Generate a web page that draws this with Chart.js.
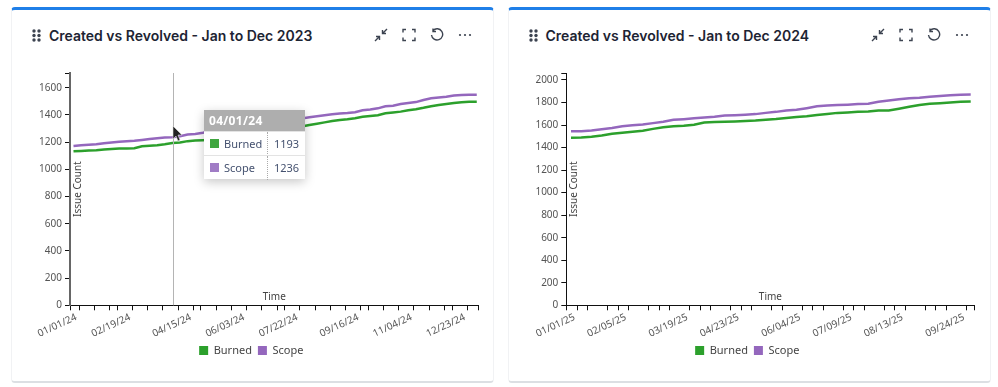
<!DOCTYPE html>
<html>
<head>
<meta charset="utf-8">
<title>Created vs Revolved</title>
<script src="https://cdn.jsdelivr.net/npm/chart.js@4"></script>
<style>
  html, body { margin: 0; padding: 0; background: #fff; }
  body { width: 998px; height: 387px; position: relative; overflow: hidden; font-family: "Noto Sans", sans-serif; }
  .card { position: absolute; top: 7px; width: 483px; height: 375.500px; box-sizing: border-box; background: #fff;
    border: 1px solid #f1f2f4; border-top: 3.5px solid #1f7fe8; border-bottom: 2px solid #dcdfe3; border-radius: 4px; }
  .title { position: absolute; top: 28px; font: 600 14px Inter, sans-serif; color: #1d2433; white-space: nowrap; line-height: 15px; }
  canvas { position: absolute; top: 60px; }
  svg.icon { position: absolute; fill: none; stroke: #3c4350; stroke-width: 1.4; }
  #tip { position: absolute; width: 101px; height: 69px; background: #fff; box-shadow: 0 3px 10px rgba(0,0,0,.22); font-size: 11px; color: #44516f; }
  #tip .head { position: absolute; left: 0; top: 0; right: 0; height: 21px; background: rgba(130,130,130,.65); color: #fff; font-weight: 700; font-size: 12px; line-height: 21px; padding-left: 5px; letter-spacing: .3px; }
  #tip .row { position: absolute; left: 0; right: 0; height: 24px; line-height: 24px; border-top: 1px solid #e3e3e3; }
  #tip .sw { position: absolute; left: 6px; top: 7px; width: 9px; height: 9px; }
  #tip .name { position: absolute; left: 20px; }
  #tip .val { position: absolute; left: 63px; width: 37px; text-align: center; border-left: 1px dotted #aaa; height: 24px; }
</style>
</head>
<body>
<div class="card" style="left:11px"></div>
<div class="card" style="left:507.5px"></div>
<div class="title" style="left:49px">Created vs Revolved - Jan to Dec 2023</div>
<div class="title" style="left:545.5px">Created vs Revolved - Jan to Dec 2024</div>
<canvas id="chart2024" width="478" height="320" style="left:12px"></canvas>
<canvas id="chart2025" width="478" height="320" style="left:508px"></canvas>
<div id="tip"></div>
<svg id="cursor" style="position:absolute;left:172px;top:125px" width="12" height="18" viewBox="0 0 12 18"><path d="M1 1v13l3-3 2 5 2-1-2-5h4z" fill="#222" stroke="#ddd" stroke-width=".6"/></svg>
<script>
// values, one entry per week
const burned2024 = [1132, 1135, 1138, 1140, 1146, 1149, 1152, 1153, 1155, 1170, 1173, 1177, 1184, 1193, 1197, 1207, 1211, 1214, 1217, 1220, 1228, 1235, 1243, 1250, 1258, 1265, 1272, 1280, 1288, 1298, 1315, 1326, 1335, 1345, 1355, 1362, 1368, 1376, 1386, 1392, 1398, 1412, 1418, 1424, 1434, 1442, 1452, 1464, 1472, 1480, 1488, 1493, 1496, 1496];
const scope2024 = [1172, 1177, 1181, 1184, 1192, 1197, 1203, 1206, 1210, 1216, 1222, 1229, 1234, 1236, 1243, 1256, 1260, 1268, 1279, 1290, 1298, 1306, 1316, 1325, 1333, 1340, 1347, 1354, 1362, 1370, 1374, 1382, 1390, 1398, 1404, 1410, 1414, 1420, 1434, 1440, 1448, 1463, 1468, 1480, 1488, 1494, 1510, 1522, 1527, 1533, 1542, 1547, 1548, 1548];
const burned2025 = [1488, 1490, 1497, 1507, 1522, 1532, 1541, 1550, 1566, 1581, 1590, 1594, 1603, 1622, 1627, 1630, 1632, 1635, 1640, 1648, 1654, 1663, 1672, 1678, 1690, 1698, 1708, 1712, 1717, 1721, 1729, 1730, 1745, 1762, 1778, 1788, 1794, 1800, 1806, 1810];
const scope2025 = [1545, 1546, 1552, 1562, 1574, 1590, 1598, 1604, 1617, 1630, 1646, 1652, 1660, 1667, 1673, 1684, 1688, 1692, 1697, 1708, 1717, 1730, 1736, 1750, 1766, 1773, 1777, 1781, 1786, 1790, 1806, 1817, 1828, 1838, 1842, 1852, 1858, 1864, 1870, 1872];

const yTicks2024 = [0, 200, 400, 600, 800, 1000, 1200, 1400, 1600];
const yTicks2025 = [0, 200, 400, 600, 800, 1000, 1200, 1400, 1600, 1800, 2000];

// week numbers that have a tick mark, and the ones that carry a date label
const xMarks2024 = [0, 2, 4, 6, 7, 9, 11, 13, 15, 17, 18, 20, 22, 24, 26, 28, 29, 31, 33, 35, 37, 39, 40, 42, 44, 46, 48, 50, 51, 53, 55];
const xLabelWeeks2024 = [0, 7, 15, 22, 29, 37, 44, 51];
const xLabels2024 = ['01/01/24', '02/19/24', '04/15/24', '06/03/24', '07/22/24', '09/16/24', '11/04/24', '12/23/24'];
const xMarks2025 = [0, 1, 2, 4, 5, 6, 8, 9, 10, 12, 13, 14, 16, 17, 18, 20, 21, 23, 24, 25, 27, 28, 29, 31, 32, 33, 35, 36, 37, 39, 40];
const xLabelWeeks2025 = [0, 5, 11, 16, 22, 27, 32, 38];
const xLabels2025 = ['01/01/25', '02/05/25', '03/19/25', '04/23/25', '06/04/25', '07/09/25', '08/13/25', '09/24/25'];

const hoverWeek = 13;
const hoverDate = '04/01/24';

const GREEN = '#2ca02c';
const PURPLE = '#9467bd';
const FONT = '"Noto Sans", sans-serif';

// axis names sit inside the plot in the original, so they are drawn here
const innerTitles = {
    id: 'innerTitles',
    afterDraw(chart) {
        const c = chart.ctx, a = chart.chartArea;
        c.save();
        c.fillStyle = '#444';
        c.font = '10px ' + FONT;
        c.textAlign = 'center';
        c.textBaseline = 'middle';
        c.fillText('Time', (a.left + a.right) / 2, a.bottom - 8);
        c.translate(a.left + 8, (a.top + a.bottom) / 2);
        c.rotate(-Math.PI / 2);
        c.fillText('Issue Count', 0, 0);
        c.restore();
    }
};

const crosshair = {
    id: 'crosshair',
    afterDraw(chart) {
        if (chart.canvas.id !== 'chart2024') return;
        const c = chart.ctx, a = chart.chartArea;
        const x = Math.round(chart.scales.x.getPixelForValue(hoverWeek)) + 1.5;
        c.save();
        c.strokeStyle = '#b4b4b4';
        c.lineWidth = 1;
        c.beginPath();
        c.moveTo(x, a.top);
        c.lineTo(x, a.bottom);
        c.stroke();
        c.restore();
    }
};

// first tick is pinned to the axis start, but its label stays where the date would fall
const firstLabel = {
    id: 'firstLabel',
    beforeDraw(chart) {
        if (chart.canvas.id !== 'chart2024') return;
        const item = chart.scales.x.getLabelItems()[0];
        if (!item.moved) {
            item.options.translation[0] -= 6.5;
            item.moved = true;
        }
    }
};

function makeChart(id, burned, scope, yTicks, yMax, marks, labelWeeks, labels, cfg) {
    // tick list is marks plus label-only weeks
    const weeks = [...new Set([...marks, ...labelWeeks])].sort((a, b) => a - b);
    const toPoints = arr => arr.map((v, i) => ({ x: i, y: v }));
    return new Chart(document.getElementById(id).getContext('2d'), {
        type: 'line',
        data: {
            datasets: [
                { label: 'Burned', data: toPoints(burned), borderColor: GREEN, backgroundColor: GREEN, borderWidth: 2.5, pointRadius: 0, tension: 0 },
                { label: 'Scope', data: toPoints(scope), borderColor: PURPLE, backgroundColor: PURPLE, borderWidth: 2.5, pointRadius: 0, tension: 0 }
            ]
        },
        options: {
            responsive: false,
            animation: false,
            events: [],
            layout: { padding: { left: 12, right: 11.5, top: 13, bottom: 14 } },
            plugins: {
                tooltip: { enabled: false },
                legend: {
                    position: 'bottom',
                    labels: {
                        boxWidth: 9, boxHeight: 9, padding: 6, color: '#444', font: { family: FONT, size: 11 },
                        generateLabels(chart) {
                            return Chart.defaults.plugins.legend.labels.generateLabels(chart).map(l => ({ ...l, lineWidth: 0 }));
                        }
                    }
                }
            },
            scales: {
                x: {
                    type: 'linear',
                    min: cfg.xMin,
                    max: cfg.xMax,
                    afterBuildTicks(scale) {
                        scale.ticks = weeks.map(w => ({ value: Math.min(cfg.xMax, Math.max(cfg.xMin, w - cfg.tickShift)) }));
                    },
                    afterFit(scale) { scale.height = 33.7; },
                    border: { color: '#111', width: 1 },
                    grid: {
                        drawOnChartArea: false,
                        tickLength: 5,
                        tickColor: ctx => marks.includes(weeks[ctx.index]) ? '#111' : 'rgba(0,0,0,0)'
                    },
                    ticks: {
                        autoSkip: false,
                        minRotation: 25,
                        maxRotation: 25,
                        padding: 1,
                        labelOffset: cfg.labelOffset,
                        color: '#555',
                        font: { family: FONT, size: 10 },
                        callback: (v, i) => {
                            const k = labelWeeks.indexOf(weeks[i]);
                            return k >= 0 ? labels[k] : '';
                        }
                    }
                },
                y: {
                    min: 0,
                    max: yMax,
                    afterBuildTicks(scale) {
                        scale.ticks = yTicks.concat(yMax).map(v => ({ value: v }));
                    },
                    afterFit(scale) { scale.width = cfg.yWidth; },
                    border: { color: cfg.axisColor, width: cfg.axisWidth },
                    grid: { drawOnChartArea: false, tickLength: 5, tickColor: '#111' },
                    ticks: {
                        padding: 3,
                        color: '#555',
                        font: { family: FONT, size: 10 },
                        callback: v => yTicks.includes(v) ? String(v) : ''
                    }
                }
            }
        },
        plugins: [firstLabel, innerTitles, crosshair]
    });
}

const chart2024 = makeChart('chart2024', burned2024, scope2024, yTicks2024, 1708, xMarks2024, xLabelWeeks2024, xLabels2024,
    { xMin: -0.46, xMax: 53.23, tickShift: 1.25, labelOffset: 12.7, yWidth: 46, axisColor: '#666', axisWidth: 2 });
makeChart('chart2025', burned2025, scope2025, yTicks2025, 2062, xMarks2025, xLabelWeeks2025, xLabels2025,
    { xMin: -0.46, xMax: 39.37, tickShift: 0.4, labelOffset: 7.5, yWidth: 46.3, axisColor: '#111', axisWidth: 1 });

// tooltip box for the hovered week
const tip = document.getElementById('tip');
tip.style.left = '204px';
tip.style.top = '110px';
tip.innerHTML = '<div class="head">' + hoverDate + '</div>' +
    '<div class="row" style="top:21px"><span class="sw" style="background:#3fa63f"></span><span class="name">Burned</span><span class="val">' + burned2024[hoverWeek] + '</span></div>' +
    '<div class="row" style="top:45px"><span class="sw" style="background:#a07cc5"></span><span class="name">Scope</span><span class="val">' + scope2024[hoverWeek] + '</span></div>';

// header icons, same set on both cards
function addIcons(dx) {
    const icons = [
        [32, 28, 10, 14, '<g fill="#3c4350" stroke="none"><circle cx="2" cy="3" r="1.7"/><circle cx="7" cy="3" r="1.7"/><circle cx="2" cy="7.5" r="1.7"/><circle cx="7" cy="7.5" r="1.7"/><circle cx="2" cy="12" r="1.7"/><circle cx="7" cy="12" r="1.7"/></g>'],
        [374, 28, 14, 14, '<path d="M1 13l4.5-4.5M2 8.5h3.5V12M13 1L8.5 5.500M8.5 2v3.500H12"/>'],
        [402, 28, 14, 14, '<path d="M1 4.500V1.500h3M10 1.500h3v3M13 9.500v3h-3M4 12.500H1v-3"/>'],
        [430, 28, 14, 14, '<path d="M3 2.500A5.600 5.600 0 1 1 1.500 7M3 .5v3h3"/>'],
        [458, 28, 15, 14, '<g fill="#3c4350" stroke="none"><circle cx="2" cy="7" r="1.100"/><circle cx="7" cy="7" r="1.100"/><circle cx="12" cy="7" r="1.100"/></g>']
    ];
    icons.forEach(([x, y, w, h, body]) => {
        const s = document.createElementNS('http://www.w3.org/2000/svg', 'svg');
        s.setAttribute('class', 'icon');
        s.setAttribute('width', w);
        s.setAttribute('height', h);
        s.style.left = (x + dx) + 'px';
        s.style.top = y + 'px';
        s.innerHTML = body;
        document.body.appendChild(s);
    });
}
addIcons(0);
addIcons(497);
</script>
</body>
</html>
